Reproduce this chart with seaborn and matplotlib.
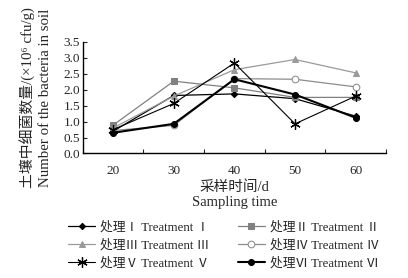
import seaborn as sns
import matplotlib.pyplot as plt
import pandas as pd

# data
days = [20, 30, 40, 50, 60]
t1 = [0.70, 1.82, 1.87, 1.72, 1.17]
t2 = [0.89, 2.27, 2.06, 1.76, 1.76]
t3 = [0.80, 1.80, 2.63, 2.95, 2.53]
t4 = [0.72, 0.88, 2.35, 2.33, 2.09]
t5 = [0.75, 1.57, 2.84, 0.93, 1.80]
t6 = [0.65, 0.93, 2.33, 1.85, 1.12]
labels = ["处理Ⅰ Treatment Ⅰ", "处理Ⅱ Treatment Ⅱ", "处理Ⅲ Treatment Ⅲ",
          "处理Ⅳ Treatment Ⅳ", "处理Ⅴ Treatment Ⅴ", "处理Ⅵ Treatment Ⅵ"]

sns.set_style("ticks")
plt.rcParams['font.family'] = ['Liberation Serif', 'Noto Sans CJK SC']

fig = plt.figure(figsize=(4.08, 2.78), dpi=100)
ax = fig.add_axes([0.203, 0.448, 0.743, 0.401])

styles = [
    dict(color="black", marker="D", markersize=3.2, linewidth=0.9,
         markeredgecolor="black"),
    dict(color="#808080", marker="s", markersize=3.8, linewidth=0.9,
         markeredgecolor="#808080"),
    dict(color="#9a9a9a", marker="^", markersize=4.2, linewidth=0.9,
         markeredgecolor="#9a9a9a"),
    dict(color="#8c8c8c", marker="o", markersize=4.8, linewidth=0.9,
         markerfacecolor="white", markeredgecolor="#8c8c8c"),
    dict(color="black", marker=(6, 2, 0), markersize=7.5, linewidth=0.8,
         markeredgewidth=0.9, markeredgecolor="black"),
    dict(color="black", marker="o", markersize=4.3, linewidth=1.5,
         markeredgecolor="black"),
]
series = [t1, t2, t3, t4, t5, t6]
for vals, lab, st in zip(series, labels, styles):
    df = pd.DataFrame({"day": days, "count": vals})
    sns.lineplot(data=df, x="day", y="count", ax=ax, label=lab, **st)

ax.set_xlim(15, 65)
ax.set_ylim(0, 3.5)
ax.set_xticks([25, 35, 45, 55, 65])
ax.set_xticklabels([])
ax.set_xticks(days, minor=True)
ax.set_xticklabels([str(d) for d in days], minor=True, fontsize=9.5)
ax.tick_params(axis="x", which="minor", length=0, pad=8)
ax.tick_params(axis="x", which="major", direction="in", length=3, width=0.8)
ax.set_yticks([0, 0.5, 1, 1.5, 2, 2.5, 3, 3.5])
ax.set_yticklabels(["0.0", "0.5", "1.0", "1.5", "2.0", "2.5", "3.0", "3.5"], fontsize=9.5)
ax.tick_params(axis="y", direction="in", length=3, width=0.8, pad=2)
ax.spines['right'].set_visible(False)
ax.spines['top'].set_visible(False)
for s in ["left", "bottom"]:
    ax.spines[s].set_linewidth(1.0)
    ax.spines[s].set_color("black")

ax.set_xlabel("采样时间/d\nSampling time", fontsize=10.5, labelpad=3, linespacing=1.15)
ax.set_ylabel("土壤中细菌数量/(×10⁶ cfu/g)\nNumber of the bacteria in soil",
              fontsize=10.7, labelpad=8, linespacing=1.3)

handles, labs = ax.get_legend_handles_labels()
ax.get_legend().remove()
order = [0, 2, 4, 1, 3, 5]
fig.legend([handles[i] for i in order], [labs[i] for i in order],
           loc="lower center", bbox_to_anchor=(0.548, -0.01),
           ncol=2, frameon=False, fontsize=9.2, handlelength=2.1,
           handletextpad=0.4, columnspacing=2.2, labelspacing=0.42)

fig.savefig("out.png", dpi=100)
